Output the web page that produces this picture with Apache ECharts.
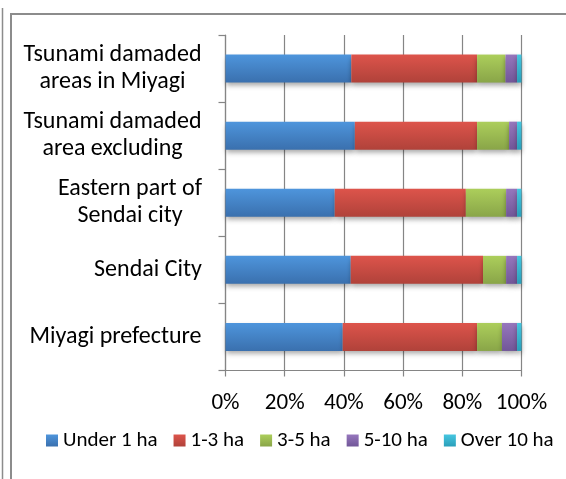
<!DOCTYPE html>
<html><head><meta charset="utf-8">
<script src="https://cdn.jsdelivr.net/npm/echarts@6/dist/echarts.min.js"></script>
<style>html,body{margin:0;padding:0;background:#fff}#c{width:566px;height:479px}</style>
</head><body><div id="c"></div>
<script>
const categories = ['Tsunami damaded\nareas in Miyagi', 'Tsunami damaded\narea excluding', 'Eastern part of\nSendai city', 'Sendai City', 'Miyagi prefecture'];
const seriesNames = ['Under 1 ha', '1-3 ha', '3-5 ha', '5-10 ha', 'Over 10 ha'];
const under1 = [42.5, 43.7, 36.9, 42.3, 39.6];
const ha1to3 = [42.5, 41.3, 44.3, 44.7, 45.4];
const ha3to5 = [9.6, 10.8, 13.6, 7.8, 8.4];
const ha5to10 = [3.9, 2.7, 3.7, 3.7, 5.1];
const over10 = [1.5, 1.5, 1.5, 1.5, 1.5];
const xTicks = ['0%', '20%', '40%', '60%', '80%', '100%'];

const FONT = 'Carlito, Lato, sans-serif';
const Y_SIZE = 24, X_SIZE = 23, L_SIZE = 21;
const seriesData = [under1, ha1to3, ha3to5, ha5to10, over10];
const gradients = [['#4e95dc', '#3a70ae'], ['#dd544b', '#b0423a'], ['#acce5b', '#89a548'], ['#9677bd', '#715698'], ['#46c6e0', '#2a9fba']];

const ctx = document.createElement('canvas').getContext('2d');
ctx.font = Y_SIZE + 'px ' + FONT;
const rich = {};
categories.forEach((c, i) => {
  const w = Math.max(...c.split('\n').map(l => ctx.measureText(l).width));
  rich['c' + i] = { width: Math.ceil(w) + 1, align: 'center', fontSize: Y_SIZE, fontFamily: FONT, color: '#000', lineHeight: 27 };
});

const chart = echarts.init(document.getElementById('c'), null, { renderer: 'canvas' });
chart.setOption({
  animation: false,
  backgroundColor: '#fff',
  grid: { left: 225.5, right: 44.5, top: 35, bottom: 108.5, containLabel: false },
  xAxis: {
    type: 'value', min: 0, max: 100, interval: 20,
    axisLine: { show: true, lineStyle: { color: '#858585', width: 1.2 } },
    axisTick: { show: true, length: 6, lineStyle: { color: '#858585', width: 1.2 } },
    splitLine: { show: true, lineStyle: { color: '#858585', width: 1.2 } },
    axisLabel: { formatter: v => xTicks[Math.round(v / 20)], fontSize: X_SIZE, fontFamily: FONT, color: '#000', margin: 21 }
  },
  yAxis: {
    type: 'category', data: categories, inverse: true,
    axisLine: { show: true, lineStyle: { color: '#858585', width: 1.2 } },
    axisTick: { show: true, length: 7, lineStyle: { color: '#858585', width: 1.2 } },
    splitLine: { show: false },
    axisLabel: {
      margin: 23, align: 'right', rich: rich,
      formatter: (v, i) => v.split('\n').map(l => '{c' + i + '|' + l + '}').join('\n')
    }
  },
  legend: {
    left: 46, top: 430, width: 520, padding: 0, itemWidth: 12, itemHeight: 12, itemGap: 16,
    icon: 'rect',
    textStyle: { fontSize: L_SIZE, fontFamily: FONT, color: '#000', padding: [0, 0, 0, 0] },
    data: seriesNames
  },
  graphic: [
    { type: 'rect', shape: { x: 11, y: 14, width: 600, height: 520 }, style: { fill: null, stroke: '#8c8c8c', lineWidth: 2 }, silent: true },
    { type: 'line', shape: { x1: 2.5, y1: 8, x2: 2.5, y2: 479 }, style: { stroke: '#8c8c8c', lineWidth: 1.5 }, silent: true }
  ],
  series: seriesNames.map((name, k) => ({
    name: name, type: 'bar', stack: 'total', barWidth: 28,
    data: seriesData[k],
    itemStyle: {
      color: new echarts.graphic.LinearGradient(0, 0, 0, 1, [{ offset: 0, color: gradients[k][0] }, { offset: 1, color: gradients[k][1] }]),
      shadowColor: 'rgba(0,0,0,0.35)', shadowBlur: 5, shadowOffsetY: 3
    }
  }))
});
</script></body></html>
